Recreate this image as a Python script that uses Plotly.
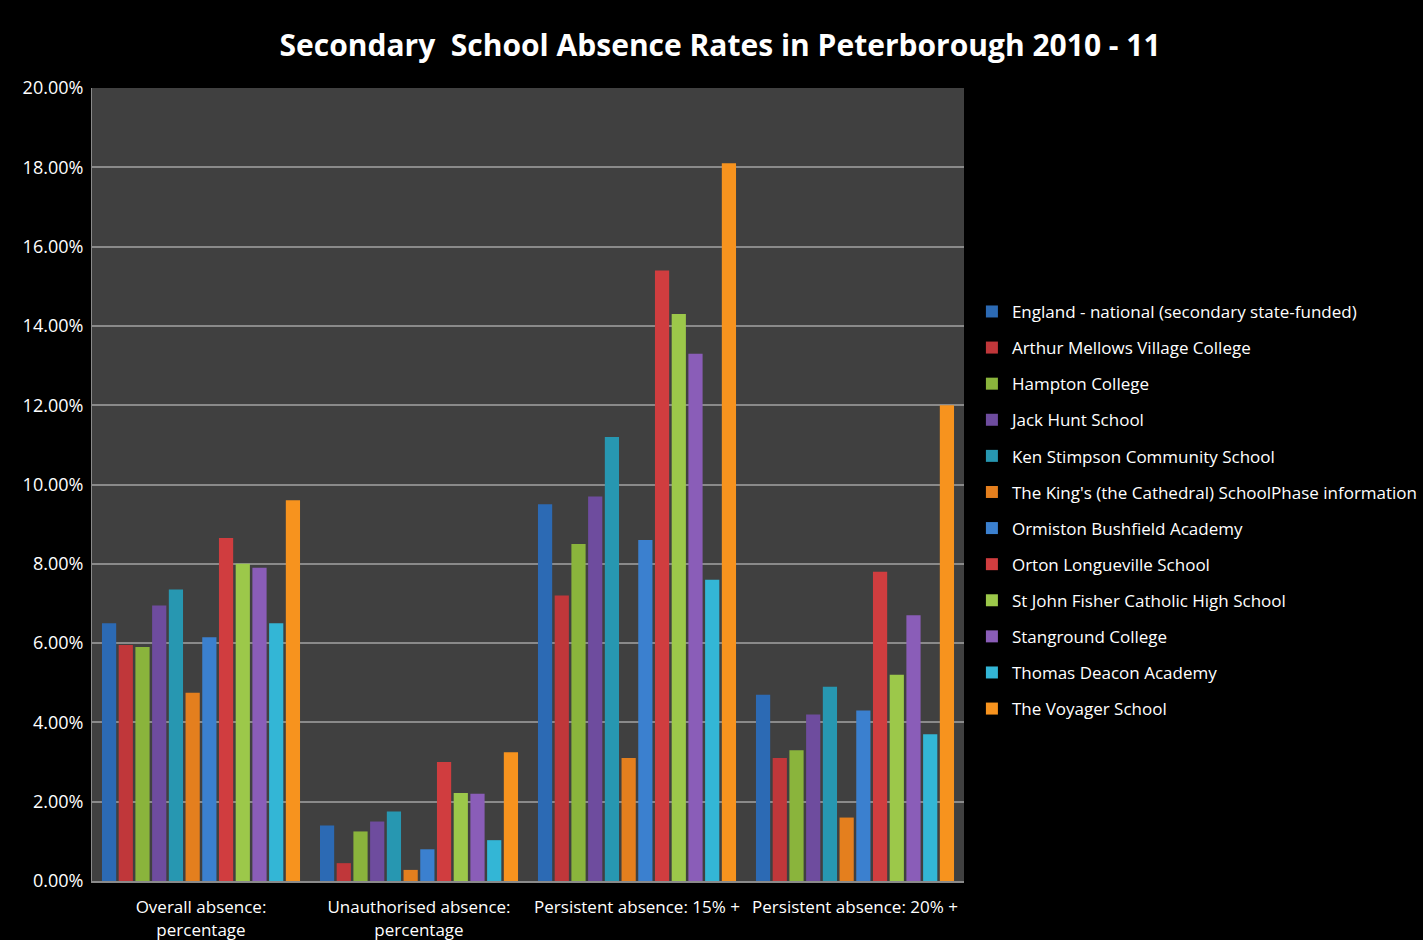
import plotly.graph_objects as go

categories = ["Overall absence:<br>percentage", "Unauthorised absence:<br>percentage",
              "Persistent absence: 15% +", "Persistent absence: 20% +"]

schools = [
    "England - national (secondary state-funded)",
    "Arthur Mellows Village College",
    "Hampton College",
    "Jack Hunt School",
    "Ken Stimpson Community School",
    "The King's (the Cathedral) SchoolPhase information",
    "Ormiston Bushfield Academy",
    "Orton Longueville School",
    "St John Fisher Catholic High School",
    "Stanground College",
    "Thomas Deacon Academy",
    "The Voyager School",
]

england = [6.5, 1.4, 9.5, 4.7]
arthur_mellows = [5.95, 0.45, 7.2, 3.1]
hampton = [5.9, 1.25, 8.5, 3.3]
jack_hunt = [6.95, 1.5, 9.7, 4.2]
ken_stimpson = [7.35, 1.75, 11.2, 4.9]
kings = [4.75, 0.28, 3.1, 1.6]
ormiston = [6.15, 0.8, 8.6, 4.3]
orton = [8.65, 3.0, 15.4, 7.8]
st_john_fisher = [8.0, 2.22, 14.3, 5.2]
stanground = [7.9, 2.2, 13.3, 6.7]
thomas_deacon = [6.5, 1.03, 7.6, 3.7]
voyager = [9.6, 3.25, 18.1, 12.0]

values = [england, arthur_mellows, hampton, jack_hunt, ken_stimpson, kings,
          ormiston, orton, st_john_fisher, stanground, thomas_deacon, voyager]

colors = ["#2C6AB4", "#C0373A", "#8AB43C", "#6E4C9E", "#2797B1", "#E47F1E",
          "#3B80CF", "#D03D3F", "#9CC84A", "#8A5DB8", "#33B6D6", "#F7931E"]

fig = go.Figure()
for name, vals, col in zip(schools, values, colors):
    fig.add_trace(go.Bar(
        x=categories, y=[v / 100 for v in vals], name=name,
        marker=dict(color=col, line=dict(width=0)),
        legendgroup=name,
    ))

fig.update_layout(
    width=1423, height=940,
    paper_bgcolor="black", plot_bgcolor="#404040",
    barmode="group", bargap=0.08, bargroupgap=0.15,
    margin=dict(l=92, r=459, t=88, b=59),
    title=dict(text="<b>Secondary\u00a0 School Absence Rates in Peterborough 2010 - 11</b>",
               x=0.506, xanchor="center", y=0.952, yanchor="middle",
               font=dict(family="Open Sans", size=30, color="white")),
    font=dict(family="Open Sans", color="white", size=17),
    yaxis=dict(range=[0, 0.2], dtick=0.02, tickformat=".2%", showgrid=True,
               gridcolor="#8a8a8a", gridwidth=1.5, zeroline=False,
               showline=True, linecolor="#8a8a8a", ticks="", tickfont=dict(size=18),
               ticklabelstandoff=4, automargin=False),
    xaxis=dict(showline=True, linecolor="#8a8a8a", linewidth=2, ticks="",
               tickfont=dict(size=17), automargin=False, ticklabelstandoff=10),
    legend=dict(xref="container", x=0.683, xanchor="left",
                yref="container", y=0.457, yanchor="middle",
                font=dict(size=17, color="white"), tracegroupgap=11,
                bgcolor="rgba(0,0,0,0)"),
)

fig.write_html("out.html")
